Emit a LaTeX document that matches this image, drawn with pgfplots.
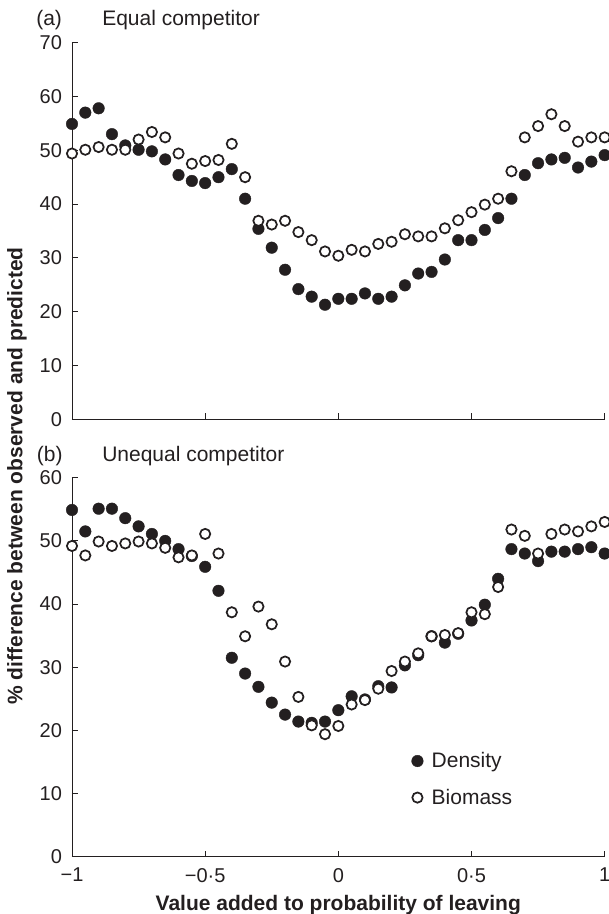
\documentclass[border=0pt]{standalone}
\usepackage{pgfplots}
\pgfplotsset{compat=1.18}
\usepackage{fontspec}
\setmainfont{Liberation Sans}
\definecolor{ink}{HTML}{231F20}
\pgfplotstableread{
x d b
-1 54.9 49.4
-0.95 57.0 50.1
-0.9 57.8 50.6
-0.85 53.0 50.1
-0.8 50.9 50.1
-0.75 50.1 52.0
-0.7 49.8 53.4
-0.65 48.3 52.4
-0.6 45.4 49.4
-0.55 44.3 47.5
-0.5 43.9 48.0
-0.45 45.0 48.2
-0.4 46.5 51.2
-0.35 41.0 45.0
-0.3 35.4 36.9
-0.25 31.9 36.2
-0.2 27.8 36.9
-0.15 24.2 34.8
-0.1 22.8 33.3
-0.05 21.3 31.2
0 22.4 30.4
0.05 22.4 31.5
0.1 23.4 31.2
0.15 22.4 32.6
0.2 22.8 33.0
0.25 24.9 34.4
0.3 27.1 34.0
0.35 27.4 34.0
0.4 29.7 35.5
0.45 33.3 37.0
0.5 33.3 38.5
0.55 35.2 39.9
0.6 37.4 41.0
0.65 41.0 46.1
0.7 45.4 52.4
0.75 47.6 54.5
0.8 48.3 56.7
0.85 48.6 54.5
0.9 46.8 51.6
0.95 47.9 52.4
1 49.1 52.4
}\topdata
\pgfplotstableread{
x d b
-1 54.9 49.2
-0.95 51.5 47.7
-0.9 55.1 49.9
-0.85 55.1 49.2
-0.8 53.6 49.6
-0.75 52.3 49.9
-0.7 51.1 49.6
-0.65 50.0 48.9
-0.6 48.7 47.4
-0.55 47.6 47.7
-0.5 45.9 51.1
-0.45 42.1 48.0
-0.4 31.5 38.7
-0.35 29.0 34.9
-0.3 26.9 39.6
-0.25 24.4 36.8
-0.2 22.5 30.9
-0.15 21.4 25.3
-0.1 21.2 20.8
-0.05 21.4 19.4
0 23.2 20.7
0.05 25.4 24.1
0.1 24.9 24.8
0.15 27.0 26.6
0.2 26.8 29.4
0.25 30.3 30.9
0.3 31.9 32.2
0.35 34.9 34.9
0.4 33.9 35.1
0.45 35.3 35.4
0.5 37.4 38.7
0.55 39.9 38.4
0.6 44.0 42.7
0.65 48.7 51.8
0.7 48.0 50.8
0.75 46.8 48.0
0.8 48.3 51.1
0.85 48.3 51.8
0.9 48.7 51.5
0.95 49.0 52.3
1 48.0 53.0
}\botdata
\pgfplotsset{
  panel/.style={
    scale only axis, width=399.5pt, clip=false,
    xmin=-1, xmax=1, ymin=0,
    axis lines*=left, axis line style={-, ink, line width=0.7pt},
    tick style={ink, line width=0.7pt}, tick align=inside, major tick length=4.5pt,
    xtick={-1,-0.5,0,0.5,1},
    ticklabel style={font=\fontsize{15}{18}\selectfont, text=ink},
    /pgf/number format/assume math mode=true,
    yticklabel style={xshift=-4pt},
    xticklabel style={yshift=-5pt},
  },
  dens/.style={only marks, mark=*, mark size=4.35pt, mark options={fill=ink, draw=ink, line width=0.3pt}},
  bio/.style={only marks, mark=*, mark size=3.85pt, mark options={fill=white, draw=ink, line width=1.3pt}},
}
\begin{document}
\begin{tikzpicture}[x=1pt,y=1pt]
\begin{axis}[panel, at={(0,0)}, anchor=south west, height=282.5pt, ymax=70,
  ytick={0,10,...,70}, xticklabels={}]
\addplot[dens] table[x=x,y=d] {\topdata};
\addplot[bio] table[x=x,y=b] {\topdata};
\end{axis}
\begin{axis}[panel, at={(0,-43.8pt)}, anchor=north west, height=284.25pt, ymax=60,
  ytick={0,10,...,60}, xticklabels={−1,−0·5,0,0·5,1},
  legend style={at={(axis cs:0.255,17.4)}, anchor=north west, draw=none, fill=none,
    font=\fontsize{15.75}{18}\selectfont, text=ink, row sep=10.5pt},
  legend cell align=left,
  legend image code/.code={\path (-5pt,0pt) (8.5pt,0pt); \draw[#1] plot coordinates {(0pt,0pt)};}]
\addplot[dens] table[x=x,y=d] {\botdata};
\addlegendentry{Density}
\addplot[bio] table[x=x,y=b] {\botdata};
\addlegendentry{Biomass}
\end{axis}
\begin{scope}[every node/.style={text=ink, inner sep=0pt}]
\node[anchor=base west, font=\fontsize{15.75}{18}\selectfont] at (-27pt,295pt) {(a)};
\node[anchor=base west, font=\fontsize{15.75}{18}\selectfont] at (22.5pt,295pt) {Equal competitor};
\node[anchor=base west, font=\fontsize{15.75}{18}\selectfont] at (-26.5pt,-31.3pt) {(b)};
\node[anchor=base west, font=\fontsize{15.75}{18}\selectfont] at (22.5pt,-31.3pt) {Unequal competitor};
\node[rotate=90, anchor=center, font=\fontsize{15.75}{18}\selectfont\bfseries] at (-41.25pt,-42.5pt) {\% difference between observed and predicted};
\node[anchor=base, font=\fontsize{15.75}{18}\selectfont\bfseries] at (199.7pt,-368pt) {Value added to probability of leaving};
\end{scope}
\pgfresetboundingbox
\path[use as bounding box] (-54pt,-371pt) rectangle (402.75pt,314.5pt);
\end{tikzpicture}
\end{document}
